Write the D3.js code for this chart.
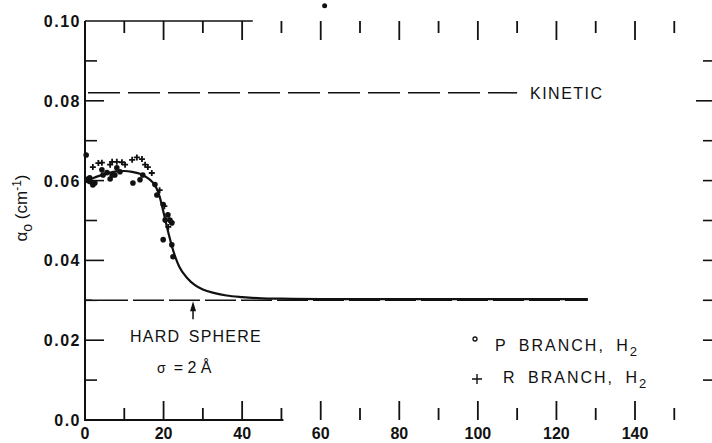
<!DOCTYPE html>
<html>
<head>
<meta charset="utf-8">
<script src="https://cdn.jsdelivr.net/npm/d3@7/dist/d3.min.js"></script>
<style>
  body { margin: 0; background: #fff; }
  svg { display: block; font-family: "Liberation Sans", Arial, sans-serif; }
  text { fill: #111; }
</style>
</head>
<body>
<div id="chart"></div>
<script>
// values
var xTicksMajor = [0, 20, 40, 60, 80, 100, 120, 140];
var xTicksMinor = [10, 30, 50, 70, 90, 110, 130, 150];
var xTickLabels = ['0', '20', '40', '60', '80', '100', '120', '140'];
var yTicks = [0.01, 0.02, 0.03, 0.04, 0.05, 0.06, 0.07, 0.08, 0.09];
var yTickLabelValues = [0.0, 0.02, 0.04, 0.06, 0.08, 0.10];
var yTickLabels = ['0.0', '0.02', '0.04', '0.06', '0.08', '0.10'];

// P branch (dots)
var pBranchX = [0.3, 0.5, 0.8, 1.2, 1.3, 2.0, 2.5, 4.3, 4.6, 5.6, 6.4, 6.9, 7.6, 8.1, 8.9,
  12.2, 14.0, 14.7, 17.8, 18.3, 19.9, 20.4, 21.1, 21.6, 22.1, 19.9, 22.1, 22.4];
var pBranchY = [0.0664, 0.0603, 0.0600, 0.0607, 0.0597, 0.0589, 0.0594, 0.0627, 0.0614, 0.0620, 0.0604, 0.0614, 0.0614, 0.0632, 0.0622,
  0.0594, 0.0602, 0.0614, 0.0590, 0.0564, 0.0540, 0.0501, 0.0514, 0.0501, 0.0494, 0.0452, 0.0439, 0.0409];

// R branch (pluses)
var rBranchX = [2.0, 3.4, 4.3, 6.4, 6.9, 8.1, 9.4, 10.2, 12.0, 13.2, 14.5, 15.3, 16.0, 17.0, 19.0, 20.2, 21.2, 22.0];
var rBranchY = [0.0634, 0.0644, 0.0645, 0.0640, 0.0647, 0.0647, 0.0646, 0.0640, 0.0652, 0.0658, 0.0654, 0.0640, 0.0634, 0.0619, 0.0576, 0.0536, 0.0484, 0.0496];

// smooth theoretical curve
var fitX = [0, 2, 4, 6, 8, 10, 12, 14, 16, 17, 18, 19, 20, 21, 22, 23, 24, 26, 28, 30, 33, 36, 40, 45, 50, 60, 128];
var fitY = [0.0597, 0.0606, 0.0613, 0.0619, 0.0623, 0.0624, 0.0622, 0.0617, 0.0606, 0.0598, 0.0585, 0.0560, 0.0520,
  0.0478, 0.0440, 0.0408, 0.0384, 0.0356, 0.0338, 0.0327, 0.0318, 0.0312, 0.0308, 0.0305, 0.0304, 0.0303, 0.0303];

var kineticValue = 0.082;
var kineticEnd = 110;
var hardSphereValue = 0.030;
var hardSphereEnd = 128;
var arrowX = 27.5;
// speck of ink above the frame
var speckX = [61];
var speckY = [0.1038];

var width = 712, height = 443;

var x = d3.scaleLinear().domain([0, 140]).range([85, 635]);
var y = d3.scaleLinear().domain([0, 0.10]).range([420, 21]);

var svg = d3.select('#chart').append('svg')
  .attr('width', width)
  .attr('height', height);

var ink = '#111';

// frame pieces: left axis full, bottom and top only partly printed
svg.append('line')
  .attr('x1', x(0)).attr('x2', x(0))
  .attr('y1', y(0.10)).attr('y2', y(0) + 1)
  .attr('stroke', ink).attr('stroke-width', 2);
svg.append('line')
  .attr('x1', x(0)).attr('x2', x(50.5))
  .attr('y1', y(0)).attr('y2', y(0))
  .attr('stroke', ink).attr('stroke-width', 2);
svg.append('line')
  .attr('x1', x(0)).attr('x2', x(42.7))
  .attr('y1', y(0.10)).attr('y2', y(0.10))
  .attr('stroke', ink).attr('stroke-width', 1.6);

// bottom ticks (pointing up)
svg.selectAll('.xtb').data(xTicksMajor.concat(xTicksMinor)).enter().append('line')
  .attr('x1', function (d) { return x(d); })
  .attr('x2', function (d) { return x(d); })
  .attr('y1', y(0))
  .attr('y2', function (d) { return y(0) - (d % 20 === 0 ? 19 : 12); })
  .attr('stroke', ink).attr('stroke-width', 1.8);

// top ticks (pointing down)
svg.selectAll('.xtt').data(xTicksMajor.concat(xTicksMinor).filter(function (d) { return d > 0; })).enter().append('line')
  .attr('x1', function (d) { return x(d); })
  .attr('x2', function (d) { return x(d); })
  .attr('y1', y(0.10))
  .attr('y2', function (d) { return y(0.10) + (d % 20 === 0 ? 19 : 12); })
  .attr('stroke', ink).attr('stroke-width', 1.8);

// left ticks (pointing right)
svg.selectAll('.ytl').data(yTicks).enter().append('line')
  .attr('x1', x(0))
  .attr('x2', function (d) { return x(0) + (Math.round(d * 100) % 2 === 0 ? 19 : 12); })
  .attr('y1', function (d) { return y(d); })
  .attr('y2', function (d) { return y(d); })
  .attr('stroke', ink).attr('stroke-width', 1.6);

// right ticks (axis sits just past the edge)
svg.selectAll('.ytr').data(yTicks).enter().append('line')
  .attr('x1', width)
  .attr('x2', function (d) { return width - (Math.round(d * 100) === 8 ? 16 : 9); })
  .attr('y1', function (d) { return y(d); })
  .attr('y2', function (d) { return y(d); })
  .attr('stroke', ink).attr('stroke-width', 1.6);

// tick labels
svg.selectAll('.xl').data(xTicksMajor).enter().append('text')
  .attr('x', function (d) { return x(d); })
  .attr('y', 439)
  .attr('text-anchor', 'middle')
  .style('font-size', '16px')
  .style('font-weight', '600')
  .text(function (d, i) { return xTickLabels[i]; });

svg.selectAll('.yl').data(yTickLabelValues).enter().append('text')
  .attr('x', 81)
  .attr('y', function (d) { return y(d) + 6; })
  .attr('text-anchor', 'end')
  .style('font-size', '16px')
  .style('font-weight', '600')
  .style('letter-spacing', '1.5px')
  .text(function (d, i) { return yTickLabels[i]; });

// axis title
var yTitle = svg.append('text')
  .attr('transform', 'translate(27,208) rotate(-90)')
  .attr('text-anchor', 'middle')
  .style('font-size', '17px');
yTitle.append('tspan').text('α');
yTitle.append('tspan').attr('dy', 5).style('font-size', '14px').text('o');
yTitle.append('tspan').attr('dy', -5).text(' (cm');
yTitle.append('tspan').attr('dy', -6).style('font-size', '12px').text('-1');
yTitle.append('tspan').attr('dy', 6).text(')');

// kinetic limit
svg.append('line')
  .attr('x1', x(0)).attr('x2', x(kineticEnd))
  .attr('y1', y(kineticValue)).attr('y2', y(kineticValue))
  .attr('stroke', ink).attr('stroke-width', 1.5)
  .attr('stroke-dasharray', '32,8')
  .attr('stroke-dashoffset', 37);
svg.append('text')
  .attr('x', 530).attr('y', y(kineticValue) + 6)
  .style('font-size', '16px')
  .style('letter-spacing', '1.5px')
  .text('KINETIC');

// hard sphere limit
svg.append('line')
  .attr('x1', x(0)).attr('x2', x(hardSphereEnd))
  .attr('y1', y(hardSphereValue)).attr('y2', y(hardSphereValue))
  .attr('stroke', ink).attr('stroke-width', 1.5)
  .attr('stroke-dasharray', '31,5')
  .attr('stroke-dashoffset', 24);

// arrow to hard sphere line
var ax = x(arrowX), ay = y(hardSphereValue) + 1;
svg.append('line')
  .attr('x1', ax).attr('x2', ax)
  .attr('y1', ay + 6).attr('y2', ay + 18)
  .attr('stroke', ink).attr('stroke-width', 1.5);
svg.append('path')
  .attr('d', 'M' + ax + ',' + ay + 'L' + (ax - 3) + ',' + (ay + 10) + 'L' + (ax + 3) + ',' + (ay + 10) + 'Z')
  .attr('fill', ink);

svg.append('text')
  .attr('x', 130).attr('y', 342)
  .style('font-size', '16px')
  .style('letter-spacing', '1.2px')
  .style('word-spacing', '3px')
  .text('HARD SPHERE');
var sig = svg.append('text')
  .attr('x', 157).attr('y', 373)
  .style('font-size', '16px');
sig.append('tspan').style('font-size', '14px').text('σ');
sig.append('tspan').attr('dx', 8).text('= 2 Å');

// fitted curve
var fitData = fitX.map(function (d, i) { return [d, fitY[i]]; });
svg.append('path')
  .datum(fitData)
  .attr('d', d3.line()
    .x(function (d) { return x(d[0]); })
    .y(function (d) { return y(d[1]); })
    .curve(d3.curveMonotoneX))
  .attr('fill', 'none')
  .attr('stroke', ink)
  .attr('stroke-width', 2.2);

// data points
svg.selectAll('.pdot').data(pBranchX).enter().append('circle')
  .attr('cx', function (d) { return x(d); })
  .attr('cy', function (d, i) { return y(pBranchY[i]); })
  .attr('r', 2.8)
  .attr('fill', ink);

svg.selectAll('.rplus').data(rBranchX).enter().append('path')
  .attr('d', function (d, i) {
    var cx = x(d), cy = y(rBranchY[i]);
    return 'M' + (cx - 3) + ',' + cy + 'H' + (cx + 3) + 'M' + cx + ',' + (cy - 3) + 'V' + (cy + 3);
  })
  .attr('stroke', ink).attr('stroke-width', 1.8);

svg.selectAll('.speck').data(speckX).enter().append('circle')
  .attr('cx', function (d) { return x(d); })
  .attr('cy', function (d, i) { return y(speckY[i]); })
  .attr('r', 2.5)
  .attr('fill', ink);

// legend
svg.append('circle')
  .attr('cx', 475).attr('cy', 339).attr('r', 2)
  .attr('fill', 'none').attr('stroke', ink).attr('stroke-width', 1.3);
var lp = svg.append('text')
  .attr('x', 495).attr('y', 351)
  .style('font-size', '16px')
  .style('letter-spacing', '2px')
  .style('word-spacing', '5px');
lp.append('tspan').text('P BRANCH, H');
lp.append('tspan').attr('dy', 5).style('font-size', '13px').text('2');

svg.append('path')
  .attr('d', 'M472,379H482M477,374V384')
  .attr('stroke', ink).attr('stroke-width', 1.4);
var lr = svg.append('text')
  .attr('x', 503).attr('y', 383)
  .style('font-size', '16px')
  .style('letter-spacing', '2px')
  .style('word-spacing', '5px');
lr.append('tspan').text('R BRANCH, H');
lr.append('tspan').attr('dy', 5).style('font-size', '13px').text('2');
</script>
</body>
</html>
